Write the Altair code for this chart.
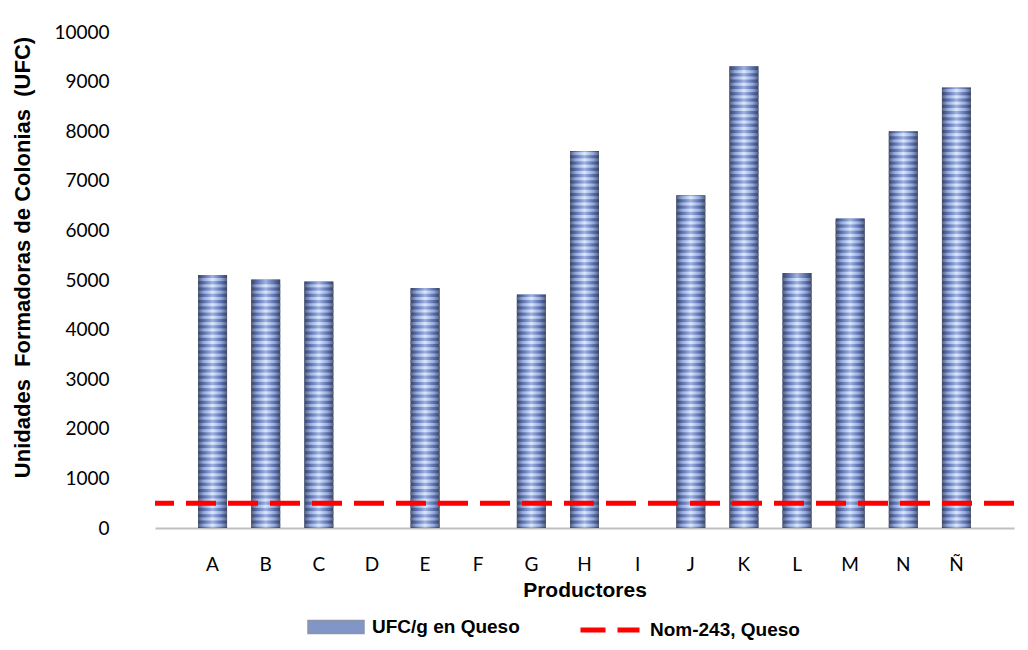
import altair as alt
import pandas as pd

productores = ["A", "B", "C", "D", "E", "F", "G", "H", "I", "J", "K", "L", "M", "N", "Ñ"]
ufc = [5100, 5010, 4970, 0, 4840, 0, 4710, 7600, 0, 6710, 9310, 5140, 6240, 8000, 8880]
norma = [500]
serie_barras = "UFC/g en Queso"
serie_norma = "Nom-243, Queso"
y_ticks = [0, 1000, 2000, 3000, 4000, 5000, 6000, 7000, 8000, 9000, 10000]

df = pd.DataFrame({"Productor": productores, "UFC": ufc, "serie": [serie_barras] * len(productores)})
df_norma = pd.DataFrame({"valor": norma, "serie": [serie_norma]})

# decorative stripe texture inside each bar, derived from the bar values
stripe_step = 127
stripe_rows = []
for p, v in zip(productores, ufc):
    s = 25
    while s + 70 <= v:
        stripe_rows.append({"Productor": p, "y0": s, "y1": s + 62})
        s += stripe_step
df_stripes = pd.DataFrame(stripe_rows)

y_title = "Unidades\u00a0 Formadoras de Colonias\u00a0 (UFC)"

x_scale = alt.Scale(paddingInner=0.454, paddingOuter=0.81)

x_enc = alt.X(
    "Productor:N",
    sort=productores,
    scale=x_scale,
    axis=alt.Axis(
        title="Productores",
        labelAngle=0,
        labelFont="Lato",
        labelFontSize=19,
        labelColor="#000000",
        labelPadding=27,
        ticks=False,
        tickSize=0,
        domainColor="#c0c0c0",
        domainWidth=2,
        grid=False,
        titleFont="Liberation Sans",
        titleFontWeight="bold",
        titleFontSize=21,
        titleColor="#000000",
        titleY=62,
        titleBaseline="middle",
    ),
)

y_axis = alt.Axis(
    title=y_title,
    values=y_ticks,
    format="d",
    labelFont="Lato",
    labelFontSize=19,
    labelColor="#000000",
    labelPadding=46,
    ticks=False,
    tickSize=0,
    domain=False,
    grid=False,
    titleFont="Liberation Sans",
    titleFontWeight="bold",
    titleFontSize=22,
    titleColor="#000000",
    titleAngle=270,
    titleX=-133,
    titleY=225,
    titleAlign="center",
    titleBaseline="middle",
)
y_scale = alt.Scale(domain=[0, 10000], nice=False)

legend_bar = alt.Legend(
    title=None,
    orient="none",
    legendX=152,
    legendY=566,
    direction="horizontal",
    padding=0,
    symbolType="M-1,-0.232H1V0.232H-1Z",
    symbolSize=3136,
    symbolStrokeColor="#8c94a8",
    symbolStrokeWidth=1.5,
    symbolOpacity=1,
    labelFont="Liberation Sans",
    labelFontWeight="bold",
    labelFontSize=19,
    labelColor="#000000",
    labelOffset=7,
)

legend_rule = alt.Legend(
    title=None,
    orient="none",
    legendX=423,
    legendY=566,
    direction="horizontal",
    padding=0,
    symbolType="stroke",
    symbolSize=3481,
    symbolStrokeWidth=5,
    symbolDash=[25, 12],
    labelFont="Liberation Sans",
    labelFontWeight="bold",
    labelFontSize=19,
    labelColor="#000000",
    labelOffset=8,
)

bars_legend = alt.Chart(df).mark_bar().encode(
    x=x_enc,
    y=alt.Y("UFC:Q", scale=y_scale, axis=y_axis),
    fill=alt.Fill(
        "serie:N",
        scale=alt.Scale(domain=[serie_barras], range=["#8195c6"]),
        legend=legend_bar,
    ),
)

bars = alt.Chart(df).mark_bar(
    fill=alt.Gradient(
        gradient="linear",
        x1=0, x2=1, y1=0, y2=0,
        stops=[
            alt.GradientStop(offset=0, color="#3a4560"),
            alt.GradientStop(offset=0.18, color="#5569a6"),
            alt.GradientStop(offset=0.5, color="#9fb2e4"),
            alt.GradientStop(offset=0.82, color="#5569a6"),
            alt.GradientStop(offset=1, color="#3a4560"),
        ],
    )
).encode(
    x=x_enc,
    y=alt.Y("UFC:Q", scale=y_scale, axis=y_axis),
)

stripes = alt.Chart(df_stripes).mark_bar(
    fill=alt.Gradient(
        gradient="linear",
        x1=0, x2=1, y1=0, y2=0,
        stops=[
            alt.GradientStop(offset=0, color="#5a6480"),
            alt.GradientStop(offset=0.2, color="#9fb4e6"),
            alt.GradientStop(offset=0.5, color="#e6f2ff"),
            alt.GradientStop(offset=0.8, color="#9fb4e6"),
            alt.GradientStop(offset=1, color="#5a6480"),
        ],
    ),
    opacity=0.85,
).encode(
    x=x_enc,
    y=alt.Y("y0:Q", scale=y_scale, axis=y_axis),
    y2="y1:Q",
)

rule = alt.Chart(df_norma).mark_rule(strokeWidth=5, strokeDash=[30, 12]).encode(
    y=alt.Y("valor:Q", scale=y_scale, axis=y_axis),
    stroke=alt.Stroke(
        "serie:N",
        scale=alt.Scale(domain=[serie_norma], range=["#ff0000"]),
        legend=legend_rule,
    ),
)

chart = (
    alt.layer(bars_legend, bars, stripes, rule)
    .properties(
        width=859,
        height=496,
        padding={"left": 155, "top": 32, "right": 14, "bottom": 122},
        autosize=alt.AutoSizeParams(type="none"),
        background="#ffffff",
    )
    .configure_view(stroke=None)
)

chart.save("out.html", embed_options={"renderer": "svg", "actions": False})
